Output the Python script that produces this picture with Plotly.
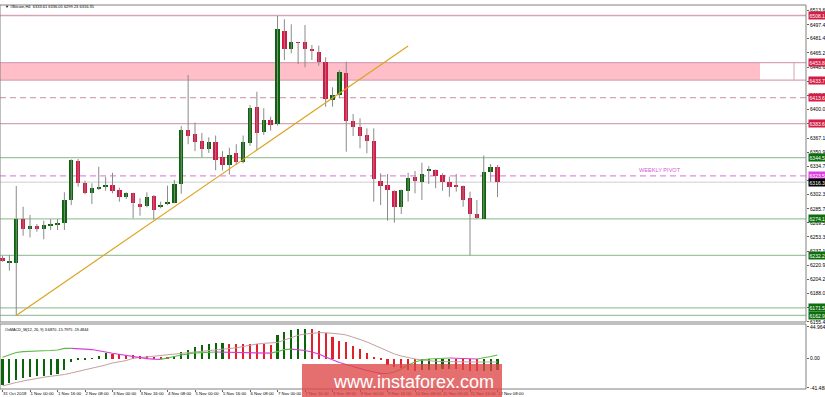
import plotly.graph_objects as go

# ---------------- data ----------------
TITLE = "\u25bc #Bitcoin,H4  6333.61 6336.05 6299.23 6316.35"
MACD_TITLE = "OsMACD_M(12, 26, 9) 3.6870 -15.7975 -19.4844"

TIME_LABELS = ["31 Oct 2018", "1 Nov 00:00", "1 Nov 16:00", "2 Nov 08:00", "3 Nov 00:00",
               "3 Nov 16:00", "4 Nov 08:00", "5 Nov 00:00", "5 Nov 16:00", "6 Nov 08:00",
               "7 Nov 00:00", "7 Nov 16:00", "8 Nov 08:00", "9 Nov 00:00", "9 Nov 16:00",
               "10 Nov 08:00", "11 Nov 00:00", "11 Nov 16:00", "12 Nov 08:00"]
BARS_PER_LABEL = 4

OPEN = [6228.7, 6224.0, 6223.0, 6273.9, 6262.1, 6266.2, 6262.8, 6266.2, 6267.4, 6269.7,
        6295.8, 6341.0, 6315.0, 6304.2, 6309.6, 6310.8, 6312.7, 6307.3, 6299.6, 6303.5,
        6291.2, 6288.9, 6300.8, 6287.4, 6290.9, 6292.7, 6314.2, 6376.0, 6372.0, 6364.0,
        6355.0, 6362.0, 6345.0, 6336.0, 6350.0, 6340.0, 6361.4, 6403.2, 6374.4, 6387.9,
        6382.9, 6490.6, 6469.2, 6477.3, 6477.3, 6469.2, 6465.8, 6455.0, 6410.9, 6416.6,
        6441.6, 6387.1, 6380.2, 6370.6, 6364.1, 6317.7, 6313.1, 6306.5, 6288.1, 6306.5,
        6321.9, 6316.9, 6329.5, 6330.3, 6324.6, 6316.2, 6312.3, 6311.9, 6297.8, 6279.4,
        6274.3, 6327.7, 6333.61]
HIGH = [6231.4, 6232.5, 6311.9, 6288.1, 6278.6, 6268.2, 6272.0, 6273.6, 6274.0, 6304.7,
        6342.6, 6343.0, 6318.0, 6315.0, 6334.1, 6322.6, 6327.2, 6310.0, 6304.7, 6304.2,
        6297.8, 6304.7, 6301.5, 6293.9, 6312.3, 6318.8, 6381.0, 6439.7, 6385.0, 6373.0,
        6368.0, 6370.0, 6352.0, 6356.0, 6360.0, 6370.0, 6405.0, 6420.4, 6401.4, 6391.7,
        6507.6, 6503.8, 6498.0, 6477.8, 6497.2, 6474.2, 6473.4, 6460.0, 6425.5, 6445.4,
        6454.9, 6394.8, 6389.8, 6378.3, 6378.3, 6326.5, 6325.7, 6307.0, 6307.8, 6327.2,
        6329.2, 6338.7, 6334.9, 6331.0, 6326.5, 6322.6, 6325.7, 6312.5, 6305.4, 6295.8,
        6347.0, 6337.2, 6336.05]
LOW = [6224.8, 6214.5, 6162.99, 6254.7, 6252.9, 6259.3, 6250.6, 6261.3, 6261.3, 6261.3,
       6290.0, 6311.1, 6302.4, 6291.2, 6307.3, 6306.5, 6303.5, 6293.9, 6297.0, 6274.8,
       6277.8, 6287.4, 6273.6, 6286.3, 6290.0, 6292.0, 6303.0, 6360.0, 6352.0, 6345.0,
       6350.0, 6330.0, 6330.0, 6325.0, 6336.0, 6338.0, 6358.0, 6353.4, 6370.6, 6375.6,
       6381.5, 6456.9, 6464.6, 6452.3, 6448.5, 6456.9, 6450.4, 6403.2, 6403.2, 6412.8,
       6351.4, 6369.5, 6355.3, 6349.6, 6293.9, 6290.0, 6272.0, 6269.7, 6279.7, 6293.9,
       6303.5, 6295.8, 6314.2, 6309.3, 6306.5, 6299.6, 6305.4, 6288.1, 6232.21, 6274.17,
       6274.17, 6316.9, 6299.23]
CLOSE = [6226.0, 6224.8, 6273.9, 6262.5, 6265.9, 6262.5, 6266.7, 6267.4, 6269.7, 6295.8,
         6341.8, 6315.7, 6304.2, 6309.6, 6311.1, 6312.3, 6306.5, 6299.6, 6303.5, 6292.0,
         6288.1, 6299.6, 6284.3, 6290.0, 6293.9, 6314.2, 6376.4, 6370.0, 6362.0, 6355.0,
         6362.0, 6342.0, 6336.0, 6348.0, 6340.0, 6362.0, 6401.7, 6373.3, 6387.9, 6382.1,
         6492.6, 6469.6, 6477.3, 6476.5, 6469.6, 6466.9, 6455.0, 6411.7, 6416.6, 6442.8,
         6387.1, 6379.8, 6370.0, 6363.7, 6319.6, 6312.3, 6307.3, 6288.1, 6307.3, 6321.5,
         6318.0, 6325.4, 6330.3, 6323.4, 6316.9, 6311.1, 6311.1, 6295.8, 6279.4, 6275.0,
         6327.7, 6333.5, 6316.35]

PRICE_TICKS = [6513.65, 6497.45, 6481.45, 6465.25, 6448.60, 6432.40, 6416.20, 6400.00,
               6383.80, 6367.15, 6350.95, 6334.75, 6318.55, 6302.35, 6285.70, 6269.50,
               6253.30, 6237.10, 6220.90, 6204.25, 6188.05, 6171.85, 6155.45]

RESIST_SOLID = [6508.13, 6453.84, 6433.77, 6383.66]
RESIST_DASHED = [6413.67]
SUPPORT = [6344.58, 6274.17, 6232.21, 6171.58, 6162.99]
PIVOT = 6323.52
PIVOT_LABEL = "WEEKLY PIVOT"
LAST_PRICE = 6316.35
ZONE = [6433.77, 6453.84]
TREND_X = [2, 59]
TREND_Y = [6162.99, 6473.0]

MACD = [-37, -35, -30, -27.5, -26, -25, -24, -22.5, -21, -16,
        -4.2, -0.8, -0.5, 0.2, 3.8, 7.6, 7.3, 6.2, 5.7, 4.7,
        4.2, 3.3, 2.4, 2.2, 1.4, 4.2, 10.0, 12.3, 16.1, 19.4,
        20.8, 21.7, 21.8, 21.5, 21.2, 21.0, 20.7, 20.5, 20.2, 20.0,
        33.0, 38.3, 40.7, 41.7, 42.0, 41.6, 39.7, 36.0, 31.2, 25.5,
        24.1, 18.4, 13.3, 8.5, 1.0, -1.0, -8.9, -11.3, -13.6, -16.0,
        -17.0, -16.5, -16.0, -15.5, -15.0, -14.8, -15.2, -15.8, -16.8, -17.8,
        -17.5, -16.8, -15.8]
LINE_A = [2.0, 5.2, 8.8, 9.9, 10.6, 11.2, 11.3, 11.6, 12.3, 14.5,
          14.7, 14.5, 13.7, 13.0, 11.6, 9.5, 7.7, 6.0, 4.1, 2.8,
          1.3, 0.0, -0.7, -0.9, 0.6, 3.1, 5.2, 6.9, 8.1, 8.5,
          9.1, 9.5, 9.4, 9.2, 9.0, 8.8, 8.4, 8.1, 8.0, 7.9,
          9.9, 13.0, 13.7, 13.0, 11.6, 9.5, 6.7, 2.4, -1.8, -5.4,
          -8.2, -11.3, -13.9, -16.7, -18.8, -20.7, -21.0, -18.8, -14.6, -8.9,
          -4.7, -1.8, -0.4, 0.3, 0.6, 1.0, 0.9, 0.6, -0.1, -0.4,
          1.0, 3.1, 5.2]
LINE_B = [-38.7, -35.9, -33.7, -31.6, -29.5, -27.8, -26.2, -24.9, -23.8, -22.4,
          -20.3, -18.1, -15.7, -13.5, -11.6, -8.9, -6.1, -4.3, -2.6, 0.6,
          1.6, 2.4, 3.1, 4.1, 5.2, 6.4, 7.4, 8.4, 9.2, 9.9,
          11.2, 12.3, 13.3, 14.3, 15.4, 17.3, 19.4, 20.8, 21.8, 22.5,
          23.0, 26.5, 30.0, 33.2, 35.0, 36.4, 36.8, 36.8, 36.4, 35.0,
          33.6, 30.7, 27.2, 23.7, 19.4, 14.5, 10.2, 6.7, 3.8, 1.3,
          -0.4, -1.8, -3.0, -3.7, -4.1, -4.4, -4.5, -4.7, -4.7, -4.7,
          -4.7, -4.7, -4.7]
MACD_TICKS = [44.9641, 0.0, -41.4888]
MACD_TICK_TEXT = ["44.9641", "0.00", "-41.4888"]
WATERMARK = "www.instaforex.com"

# ---------------- styling / layout constants ----------------
W, H = 825, 397
PLOT_W = 806
BAR_PX = 6.875
X0_PX = 2.5
MAIN_TOP, MAIN_BOT = 5, 322
SUB_TOP, SUB_BOT = 324, 389
SMALL = 5.0
XLAB = 4.3
FONT = "Liberation Sans, Arial, sans-serif"

UP = "#0a640a"
DOWN = "#dc1443"
WICK = "#8a8a8a"
RES_COL = "rgb(214,163,183)"
SUP_COL = "rgb(160,196,160)"
PIV_COL = "rgb(226,140,226)"

n = len(OPEN)
idx = list(range(n))
x_range = [-X0_PX / BAR_PX, (PLOT_W - X0_PX) / BAR_PX]


def dom(top_px, bot_px):
    return [(H - bot_px) / H, (H - top_px) / H]


fig = go.Figure()

# wicks
wx, wy = [], []
for i in idx:
    wx += [i, i, None]
    wy += [LOW[i], HIGH[i], None]
fig.add_trace(go.Scatter(x=wx, y=wy, mode="lines", line=dict(color=WICK, width=1),
                         hoverinfo="skip", showlegend=False, xaxis="x", yaxis="y"))
# bodies
body_base = [min(o, c) for o, c in zip(OPEN, CLOSE)]
body_h = [max(abs(c - o), 0.9) for o, c in zip(OPEN, CLOSE)]
body_col = [UP if c >= o else DOWN for o, c in zip(OPEN, CLOSE)]
fig.add_trace(go.Bar(x=idx, y=body_h, base=body_base, width=0.64,
                     marker=dict(color=body_col, line=dict(width=0)),
                     showlegend=False, xaxis="x", yaxis="y"))
# trend line
fig.add_trace(go.Scatter(x=TREND_X, y=TREND_Y, mode="lines",
                         line=dict(color="rgb(218,165,32)", width=1.2),
                         showlegend=False, xaxis="x", yaxis="y"))

# MACD histogram
macd_col = [UP] + [UP if MACD[i] >= MACD[i - 1] else "#e0202a" for i in range(1, n)]
fig.add_trace(go.Bar(x=idx, y=MACD, width=0.3, marker=dict(color=macd_col, line=dict(width=0)),
                     showlegend=False, xaxis="x2", yaxis="y2"))
# signal line
fig.add_trace(go.Scatter(x=idx, y=LINE_B, mode="lines", line=dict(color="rgb(196,160,160)", width=1),
                         showlegend=False, xaxis="x2", yaxis="y2"))
# coloured line, split into runs by direction
runs = []
for i in range(1, n):
    up = LINE_A[i] >= LINE_A[i - 1]
    if runs and runs[-1][0] == up:
        runs[-1][2] = i
    else:
        runs.append([up, i - 1, i])
for up, a, b in runs:
    fig.add_trace(go.Scatter(x=idx[a:b + 1], y=LINE_A[a:b + 1], mode="lines",
                             line=dict(color="rgb(90,190,70)" if up else "rgb(214,60,214)", width=1.2),
                             showlegend=False, xaxis="x2", yaxis="y2"))

shapes = []
# pink zone
shapes.append(dict(type="rect", xref="paper", yref="y", x0=0, x1=760 / PLOT_W, y0=ZONE[0], y1=ZONE[1],
                   fillcolor="rgb(255,190,200)", line=dict(width=0), layer="below"))
shapes.append(dict(type="line", xref="paper", yref="y", x0=794 / PLOT_W, x1=794 / PLOT_W, y0=ZONE[0], y1=ZONE[1],
                   line=dict(color=RES_COL, width=1), layer="below"))
for lv in RESIST_SOLID:
    shapes.append(dict(type="line", xref="paper", yref="y", x0=0, x1=1, y0=lv, y1=lv,
                       line=dict(color=RES_COL, width=1.3), layer="below"))
for lv in RESIST_DASHED:
    shapes.append(dict(type="line", xref="paper", yref="y", x0=0, x1=1, y0=lv, y1=lv,
                       line=dict(color=RES_COL, width=1.3, dash="6px,4px"), layer="below"))
for lv in SUPPORT:
    shapes.append(dict(type="line", xref="paper", yref="y", x0=0, x1=1, y0=lv, y1=lv,
                       line=dict(color=SUP_COL, width=1.3), layer="below"))
shapes.append(dict(type="line", xref="paper", yref="y", x0=0, x1=1, y0=PIVOT, y1=PIVOT,
                   line=dict(color=PIV_COL, width=1.3, dash="6px,4px"), layer="below"))
shapes.append(dict(type="line", xref="paper", yref="y", x0=0, x1=1, y0=LAST_PRICE, y1=LAST_PRICE,
                   line=dict(color="rgb(205,205,205)", width=1), layer="below"))
# panel borders
for top, bot in [(MAIN_TOP, MAIN_BOT), (SUB_TOP, SUB_BOT)]:
    d = dom(top, bot)
    shapes.append(dict(type="rect", xref="paper", yref="paper", x0=0, x1=1, y0=d[0], y1=d[1],
                       line=dict(color="rgb(128,128,128)", width=1), fillcolor="rgba(0,0,0,0)"))
# watermark box
shapes.append(dict(type="rect", xref="paper", yref="paper", x0=302 / PLOT_W, x1=502 / PLOT_W,
                   y0=0, y1=(H - 364) / H, fillcolor="rgba(222,70,70,0.78)", line=dict(width=0), layer="above"))

annotations = []


def box(lv, col):
    annotations.append(dict(xref="paper", yref="y", x=1, xshift=1.5, y=lv, xanchor="left", yanchor="middle",
                            text=f"{lv:.2f}", showarrow=False, bgcolor=col, borderpad=0.6,
                            font=dict(size=SMALL, color="white", family=FONT)))


for lv in RESIST_SOLID + RESIST_DASHED:
    box(lv, "#d21e44")
for lv in SUPPORT:
    box(lv, "#0d6e0d")
box(PIVOT, "#e040e0")
box(LAST_PRICE, "#000000")

annotations.append(dict(xref="paper", yref="y", x=683 / PLOT_W, y=PIVOT, yanchor="bottom", yshift=1,
                        text=PIVOT_LABEL, showarrow=False,
                        font=dict(size=5.6, color="rgb(214,90,214)", family=FONT)))
annotations.append(dict(xref="paper", yref="paper", x=3 / PLOT_W, y=(H - 1.5) / H, xanchor="left", yanchor="top",
                        text=TITLE, showarrow=False, font=dict(size=4.0, color="black", family=FONT)))
annotations.append(dict(xref="paper", yref="paper", x=3 / PLOT_W, y=(H - 325.5) / H, xanchor="left", yanchor="top",
                        text=MACD_TITLE, showarrow=False, font=dict(size=3.8, color="black", family=FONT)))
annotations.append(dict(xref="paper", yref="paper", x=413 / PLOT_W, y=(H - 382) / H, xanchor="center", yanchor="middle",
                        text=WATERMARK, showarrow=False, font=dict(size=18, color="white", family=FONT)))

axis_common = dict(showgrid=False, zeroline=False, showline=False, fixedrange=True, automargin=False)
fig.update_layout(
    width=W, height=H, margin=dict(l=0, r=W - PLOT_W, t=0, b=0, autoexpand=False),
    paper_bgcolor="white", plot_bgcolor="white", showlegend=False,
    xaxis=dict(domain=[0, 1], range=x_range, anchor="y", showticklabels=False, ticks="", **axis_common),
    yaxis=dict(domain=dom(MAIN_TOP, MAIN_BOT),
               range=[6525.96 - 1.1507 * MAIN_BOT, 6525.96 - 1.1507 * MAIN_TOP],
               side="right", anchor="x", tickmode="array", tickvals=PRICE_TICKS,
               ticktext=[f"{v:.2f}" for v in PRICE_TICKS], ticks="outside", ticklen=2,
               tickcolor="rgb(100,100,100)", tickfont=dict(size=SMALL, color="black", family=FONT),
               **axis_common),
    xaxis2=dict(domain=[0, 1], range=x_range, anchor="y2", tickmode="array",
                tickvals=[k * BARS_PER_LABEL for k in range(len(TIME_LABELS))], ticktext=TIME_LABELS,
                ticklabelposition="outside right", tickangle=0, ticks="outside", ticklen=2,
                tickcolor="rgb(100,100,100)",
                tickfont=dict(size=XLAB, color="black", family=FONT), **axis_common),
    yaxis2=dict(domain=dom(SUB_TOP, SUB_BOT),
                range=[(358.7 - SUB_BOT) * 1.417, (358.7 - SUB_TOP) * 1.417],
                side="right", anchor="x2", tickmode="array", tickvals=MACD_TICKS, ticktext=MACD_TICK_TEXT,
                ticks="outside", ticklen=2, tickcolor="rgb(100,100,100)",
                tickfont=dict(size=SMALL, color="black", family=FONT), **axis_common),
    shapes=shapes, annotations=annotations, bargap=0,
)

fig.write_html("out.html", config={"displayModeBar": False},
               post_script="document.body.style.margin='0';document.body.style.overflow='hidden';")
